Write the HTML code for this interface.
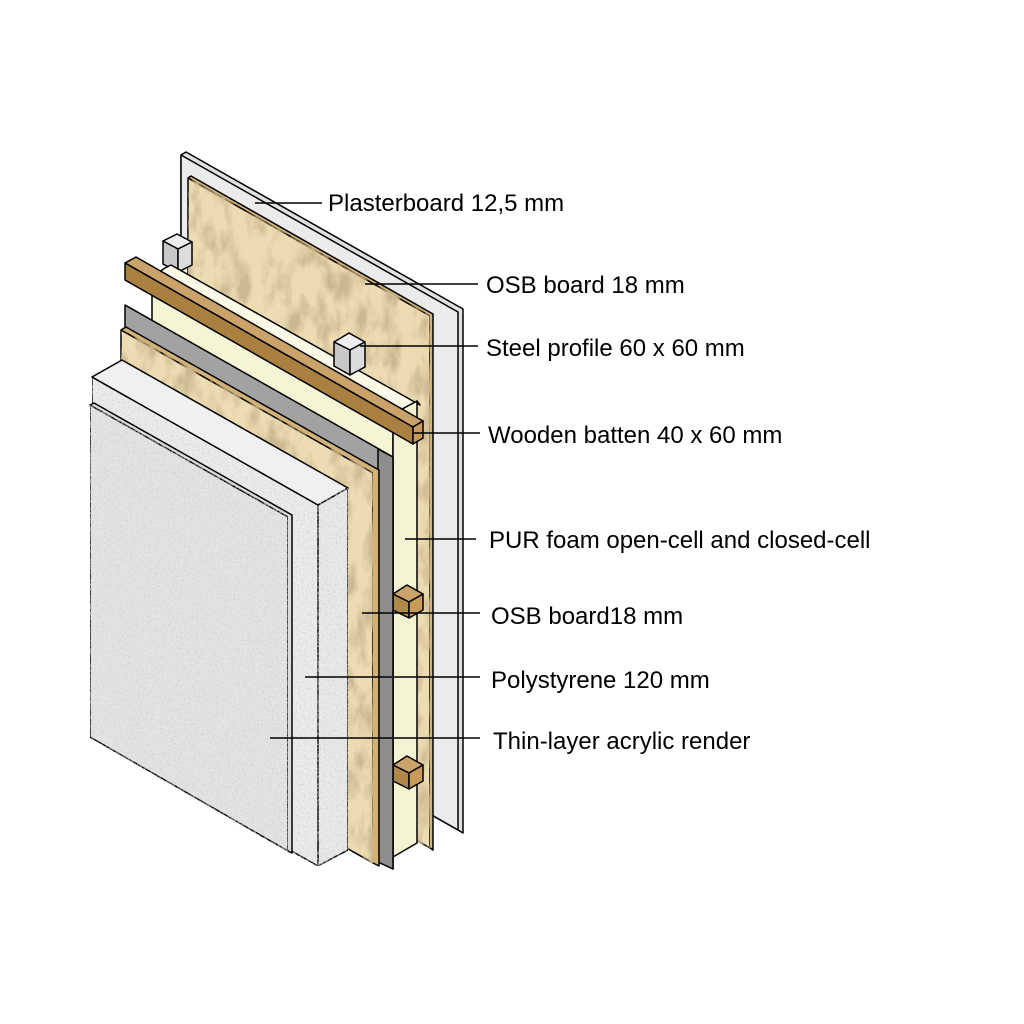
<!DOCTYPE html>
<html><head><meta charset="utf-8"><style>
html,body{margin:0;padding:0;background:#fff;}
svg{display:block}
text{font-family:"Liberation Sans",Arial,sans-serif;font-size:24px;fill:#000}
</style></head><body>
<svg width="1024" height="1024" viewBox="0 0 1024 1024" xmlns="http://www.w3.org/2000/svg">
<defs>
<filter id="osb" x="0" y="0" width="100%" height="100%">
 <feTurbulence type="fractalNoise" baseFrequency="0.06 0.03" numOctaves="4" seed="4" result="n"/>
 <feColorMatrix in="n" type="matrix" values="0 0 0 0 0.6  0 0 0 0 0.48  0 0 0 0 0.28  0 0 0 -3 1.75" result="c"/>
 <feComposite in="c" in2="SourceGraphic" operator="in" result="t"/>
 <feMerge><feMergeNode in="SourceGraphic"/><feMergeNode in="t"/></feMerge>
</filter>
<filter id="rend" x="0" y="0" width="100%" height="100%">
 <feTurbulence type="fractalNoise" baseFrequency="0.5" numOctaves="2" seed="2" result="n"/>
 <feColorMatrix in="n" type="matrix" values="0 0 0 0 0.6  0 0 0 0 0.6  0 0 0 0 0.6  0 0 0 -1.6 0.9" result="c"/>
 <feComposite in="c" in2="SourceGraphic" operator="in" result="t"/>
 <feMerge><feMergeNode in="SourceGraphic"/><feMergeNode in="t"/></feMerge>
</filter>
</defs>
<g stroke="#000" stroke-width="1.5" stroke-linejoin="round">
<polygon points="181,155 186,152 463,309 463,833 458,830 181,672" fill="#e0e0e0"/>
<polygon points="181,155 458,312 458,830 181,672" fill="#ebebeb"/>
<polygon points="188,178 191,176 433,314 433,850 430,848 188,710" fill="#d2b276"/>
<polygon points="188,178 430,316 430,848 188,710" fill="#eddcb2" filter="url(#osb)"/>
<polygon points="163,241 177,234 192,242 178,249" fill="#eeeeee"/>
<polygon points="163,241 178,249 178,272 163,264" fill="#c8c8c8"/>
<polygon points="178,249 192,242 192,265 178,272" fill="#dcdcdc"/>
<polygon points="165,268 171,265 420,405 417,401 393,414 152,277" fill="#fafae6"/>
<polygon points="152,277 393,414 393,860 152,723" fill="#f5f5d6"/>
<polygon points="393,414 417,401 417,843 393,857" fill="#f3f3d2"/>
<polygon points="125,263 136,257 423,421 413,427" fill="#c9a36a"/>
<polygon points="125,263 413,427 413,444 125,280" fill="#a9803f"/>
<polygon points="413,427 423,421 423,438 413,444" fill="#c79a5a"/>
<polygon points="334,342 349,333 365,342 350,350" fill="#eeeeee"/>
<polygon points="334,342 350,350 350,375 334,366" fill="#c8c8c8"/>
<polygon points="350,350 365,342 365,367 350,375" fill="#dcdcdc"/>
<polygon points="393,594 407,585 423,594 409,602" fill="#c9a36a"/>
<polygon points="393,594 409,602 409,618 393,610" fill="#b08848"/>
<polygon points="409,602 423,594 423,610 409,618" fill="#c79a5a"/>
<polygon points="393,765 407,756 423,765 409,773" fill="#c9a36a"/>
<polygon points="393,765 409,773 409,789 393,781" fill="#b08848"/>
<polygon points="409,773 423,765 423,781 409,789" fill="#c79a5a"/>
<polygon points="125,305 393,457 393,869 125,717" fill="#a2a2a2"/>
<polygon points="378,449 393,457 393,869 378,862" fill="#8e8e8e"/>
<polygon points="121,330 126,327 379,470 379,866 373,863 121,720" fill="#d2b276"/>
<polygon points="121,330 373,473 373,863 121,720" fill="#eddcb2" filter="url(#osb)"/>
<polygon points="92,377 318,505 318,866 92,738" fill="#ececec" filter="url(#rend)"/>
<polygon points="92,377 122,360 348,488 318,505" fill="#f0f0f0"/>
<polygon points="318,505 348,488 348,850 318,866" fill="#e9e9e9" filter="url(#rend)"/>
<polygon points="90,405 94,403 292,515 292,853 288,851" fill="#dcdcdc"/>
<polygon points="90,405 288,517 288,851 90,737" fill="#e4e4e4" filter="url(#rend)"/>
</g>
<g stroke="#000" stroke-width="1.5">
<line x1="255" y1="203" x2="322" y2="203"/>
<line x1="365" y1="284" x2="478" y2="284"/>
<line x1="360" y1="346" x2="478" y2="346"/>
<line x1="413" y1="433" x2="480" y2="433"/>
<line x1="405" y1="539" x2="476" y2="539"/>
<line x1="362" y1="613" x2="480" y2="613"/>
<line x1="305" y1="677" x2="480" y2="677"/>
<line x1="270" y1="738" x2="480" y2="738"/>
</g>
<text x="328" y="211">Plasterboard 12,5 mm</text>
<text x="486" y="293">OSB board 18 mm</text>
<text x="486" y="356">Steel profile 60 x 60 mm</text>
<text x="488" y="443">Wooden batten 40 x 60 mm</text>
<text x="489" y="548">PUR foam open-cell and closed-cell</text>
<text x="491" y="624">OSB board18 mm</text>
<text x="491" y="688">Polystyrene 120 mm</text>
<text x="493" y="749">Thin-layer acrylic render</text>
</svg>
</body></html>
